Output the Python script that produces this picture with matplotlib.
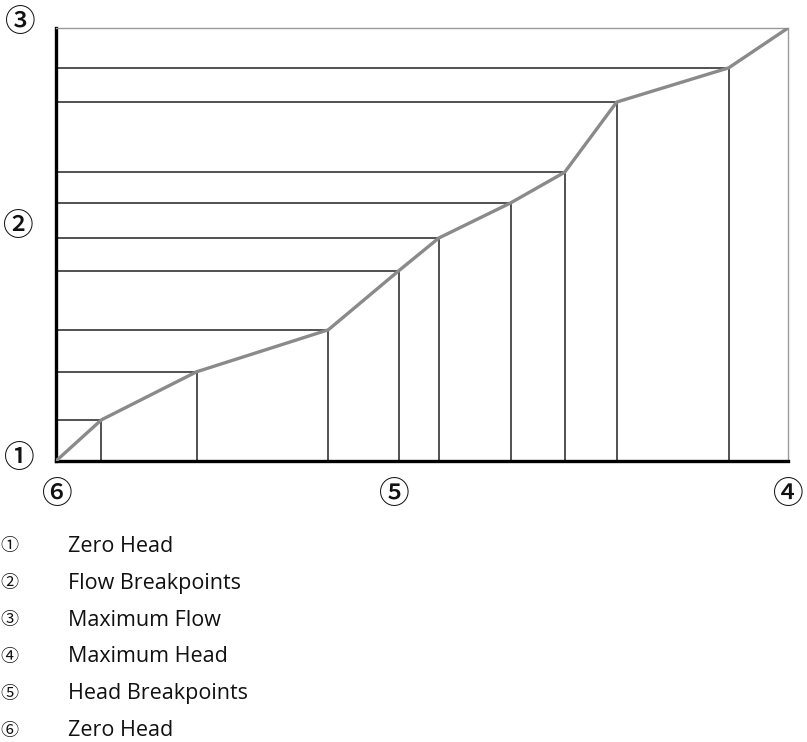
import matplotlib.pyplot as plt

# Head breakpoints (% of maximum head) and matching flow breakpoints (% of maximum flow)
head = [0, 6.2, 19.2, 37.2, 46.8, 52.3, 62.1, 69.5, 76.6, 91.9, 100]
flow = [0, 9.5, 20.6, 30.3, 43.9, 51.5, 59.6, 66.7, 82.9, 90.8, 100]

legend_marks = ['①', '②', '③', '④', '⑤', '⑥']
legend_texts = ['Zero Head', 'Flow Breakpoints', 'Maximum Flow',
                'Maximum Head', 'Head Breakpoints', 'Zero Head']

W, H = 807, 742
fig = plt.figure(figsize=(W / 100, H / 100), dpi=100)
ax = fig.add_axes([56 / W, 1 - 461 / H, (788 - 56) / W, (461 - 28) / H])
ax.set_xlim(0, 100)
ax.set_ylim(0, 100)

# drop lines from each breakpoint to both axes
for x, y in zip(head[1:-1], flow[1:-1]):
    ax.plot([0, x], [y, y], color='#222222', lw=1.1, solid_capstyle='butt')
    ax.plot([x, x], [0, y], color='#222222', lw=1.1, solid_capstyle='butt')

ax.plot(head, flow, color='#8a8a8a', lw=2.4, solid_capstyle='round', zorder=3)

for side in ['top', 'right']:
    ax.spines[side].set_color('#9a9a9a')
    ax.spines[side].set_linewidth(1.0)
for side in ['left', 'bottom']:
    ax.spines[side].set_color('black')
    ax.spines[side].set_linewidth(2.4)
ax.set_xticks([])
ax.set_yticks([])

circ = ['Noto Sans CJK JP', 'DejaVu Sans']

# circled callouts around the axes
big = dict(fontsize=22, family=circ, ha='center', va='center', color='#111111',
           weight='medium')
fig.text(20 / W, 1 - 23 / H, '③', **big)
fig.text(18 / W, 1 - 227 / H, '②', **big)
fig.text(19 / W, 1 - 458 / H, '①', **big)
fig.text(57 / W, 1 - 495 / H, '⑥', **big)
fig.text(394 / W, 1 - 495 / H, '⑤', **big)
fig.text(788 / W, 1 - 495 / H, '④', **big)

# key below the chart
for i, (m, t) in enumerate(zip(legend_marks, legend_texts)):
    y = 1 - (546 + i * 37) / H
    fig.text(9 / W, y, m, fontsize=13, family=circ, ha='center', va='center',
             color='#111111')
    fig.text(68 / W, y, t, fontsize=15.5, family='Open Sans', ha='left', va='center',
             color='#111111')

fig.savefig('out.png', dpi=100)
